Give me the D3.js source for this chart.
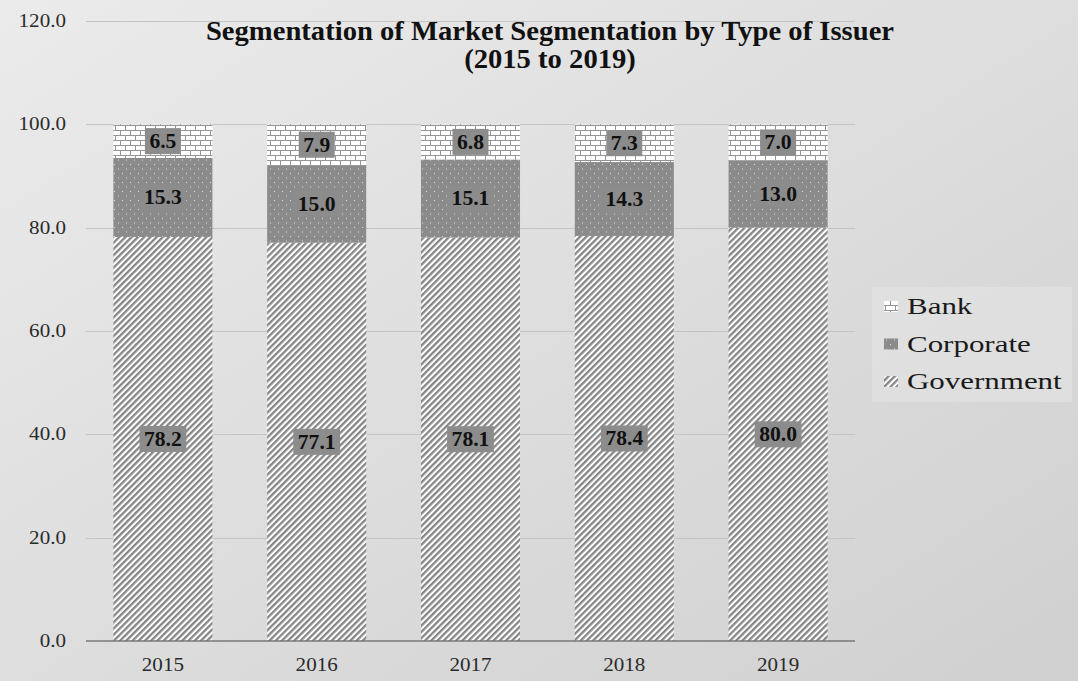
<!DOCTYPE html>
<html>
<head>
<meta charset="utf-8">
<script src="https://cdn.jsdelivr.net/npm/d3@7"></script>
<style>
    body { margin: 0; padding: 0; background: #dcdcdc; }
    svg { display: block; }
</style>
</head>
<body>
<div id="chart"></div>
<script>
// chart values
let years = ["2015", "2016", "2017", "2018", "2019"];
let government = [78.2, 77.1, 78.1, 78.4, 80.0];
let corporate = [15.3, 15.0, 15.1, 14.3, 13.0];
let bank = [6.5, 7.9, 6.8, 7.3, 7.0];
let yTicks = [0, 20, 40, 60, 80, 100, 120];
let seriesNames = ["Government", "Corporate", "Bank"];
let legendOrder = ["Bank", "Corporate", "Government"];

let width = 1078, height = 681;
let serif = "'Liberation Serif', 'Times New Roman', serif";

let svg = d3.select("#chart").append("svg")
    .attr("width", width)
    .attr("height", height);

let defs = svg.append("defs");

// background gradient, light top-left to darker bottom-right
let bg = defs.append("linearGradient")
    .attr("id", "bgGrad")
    .attr("x1", "0%").attr("y1", "0%")
    .attr("x2", "100%").attr("y2", "100%");
bg.append("stop").attr("offset", "0%").style("stop-color", "#ebebeb");
bg.append("stop").attr("offset", "100%").style("stop-color", "#d0d0d0");

// diagonal stripes (government)
let stripes = defs.append("pattern")
    .attr("id", "patGov")
    .attr("patternUnits", "userSpaceOnUse")
    .attr("width", 4.4).attr("height", 10)
    .attr("patternTransform", "rotate(45)");
stripes.append("rect").attr("width", 4.4).attr("height", 10).style("fill", "#ffffff");
stripes.append("rect").attr("width", 2.3).attr("height", 10).style("fill", "#868686");

// dotted grey (corporate)
let dots = defs.append("pattern")
    .attr("id", "patCorp")
    .attr("patternUnits", "userSpaceOnUse")
    .attr("width", 8).attr("height", 9);
dots.append("rect").attr("width", 8).attr("height", 9).style("fill", "#8b8b8b");
dots.append("rect").attr("x", 2).attr("y", 2).attr("width", 1).attr("height", 1).style("fill", "#d8d8d8");
dots.append("rect").attr("x", 6).attr("y", 6.5).attr("width", 1).attr("height", 1).style("fill", "#d8d8d8");

// bricks (bank)
let bricks = defs.append("pattern")
    .attr("id", "patBank")
    .attr("patternUnits", "userSpaceOnUse")
    .attr("width", 10).attr("height", 10);
bricks.append("rect").attr("width", 10).attr("height", 10).style("fill", "#ffffff");
bricks.append("path")
    .attr("d", "M0,0.5H10 M0,5.5H10 M0.5,0V5.5 M5.5,5.5V10")
    .style("stroke", "#959595")
    .style("stroke-width", 1)
    .style("fill", "none");

let fills = {Government: "url(#patGov)", Corporate: "url(#patCorp)", Bank: "url(#patBank)"};

svg.append("rect")
    .attr("width", width)
    .attr("height", height)
    .style("fill", "url(#bgGrad)");

// scales
let x = d3.scaleBand()
    .domain(years)
    .range([86, 855])
    .paddingInner(0.356)
    .paddingOuter(0.178);

let y = d3.scaleLinear()
    .domain([0, 120])
    .range([641, 21]);

// text helper: the reference text is a bit wider than the font
function label(g, str, px, py, size, anchor, sx, weight, color) {
    return g.append("text")
        .text(str)
        .attr("transform", "translate(" + px + "," + py + ") scale(" + sx + ",1)")
        .attr("text-anchor", anchor)
        .style("font-family", serif)
        .style("font-size", size + "px")
        .style("font-weight", weight || "normal")
        .style("fill", color || "#2a2a2a");
}

// gridlines
svg.append("g")
    .selectAll("line")
    .data(yTicks.slice(1))
    .enter()
    .append("line")
    .attr("x1", 86).attr("x2", 855)
    .attr("y1", d => Math.round(y(d)) + 0.5)
    .attr("y2", d => Math.round(y(d)) + 0.5)
    .style("stroke", "#c4c4c4")
    .style("stroke-width", 1);

// y tick labels
let yAxisG = svg.append("g");
yTicks.forEach(t => {
    label(yAxisG, d3.format(".1f")(t), 66, y(t) + 6, 18.5, "end", 1.14);
});

// stacked data
let table = years.map((yr, i) => ({year: yr, Government: government[i], Corporate: corporate[i], Bank: bank[i]}));
let stack = d3.stack().keys(seriesNames)(table);

let barsG = svg.append("g");
stack.forEach(layer => {
    barsG.selectAll(null)
        .data(layer)
        .enter()
        .append("rect")
        .attr("x", d => x(d.data.year))
        .attr("y", d => y(d[1]))
        .attr("width", x.bandwidth())
        .attr("height", d => y(d[0]) - y(d[1]))
        .style("fill", fills[layer.key]);
});

// x axis baseline
svg.append("line")
    .attr("x1", 86).attr("x2", 855)
    .attr("y1", y(0)).attr("y2", y(0))
    .style("stroke", "#777")
    .style("stroke-width", 1.5);

// x tick labels
let xAxisG = svg.append("g");
years.forEach(yr => {
    label(xAxisG, yr, x(yr) + x.bandwidth() / 2, 671, 18.5, "middle", 1.14);
});

// value labels with grey boxes
let valG = svg.append("g");
stack.forEach(layer => {
    layer.forEach(d => {
        let cx = x(d.data.year) + x.bandwidth() / 2;
        let cy = (y(d[0]) + y(d[1])) / 2;
        let val = d.data[layer.key];
        let box = valG.append("rect").style("fill", "#8c8c8c");
        let t = label(valG, d3.format(".1f")(val), cx, cy + 7, 20, "middle", 1.08, "bold", "#111");
        let w = t.node().getComputedTextLength() * 1.08 + 9;
        box.attr("x", cx - w / 2)
            .attr("y", cy - 13)
            .attr("width", w)
            .attr("height", 26);
    });
});

// title
let titleG = svg.append("g");
label(titleG, "Segmentation of Market Segmentation by Type of Issuer", 550, 40, 26.5, "middle", 1.08, "bold", "#111");
label(titleG, "(2015 to 2019)", 550, 68, 26.5, "middle", 1.08, "bold", "#111");

// legend
let legendG = svg.append("g");
legendG.append("rect")
    .attr("x", 872).attr("y", 287)
    .attr("width", 200).attr("height", 115)
    .style("fill", "#e3e3e3")
    .style("opacity", 0.7);

legendOrder.forEach((name, i) => {
    let ly = 314 + i * 37.5;
    legendG.append("rect")
        .attr("x", 884)
        .attr("y", ly - 13)
        .attr("width", 14)
        .attr("height", 11)
        .style("fill", fills[name]);
    label(legendG, name, 907, ly, 24, "start", 1.29, "normal", "#1a1a1a");
});
</script>
</body>
</html>
